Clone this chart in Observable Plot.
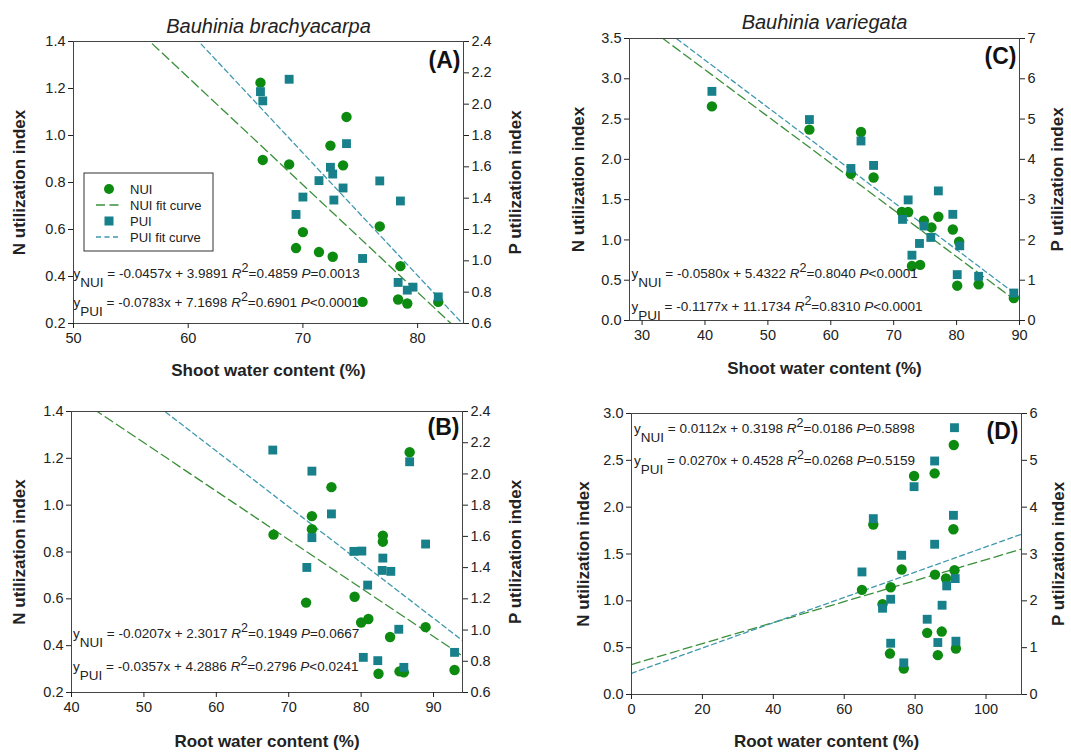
<!DOCTYPE html>
<html>
<head>
<meta charset="utf-8">
<script src="https://cdn.jsdelivr.net/npm/d3@7"></script>
<script src="https://cdn.jsdelivr.net/npm/@observablehq/plot@0.6"></script>
<style>
  body { margin: 0; background: #fff; }
  #fig { position: relative; width: 1071px; height: 753px; background: #fff; overflow: hidden; }
  #fig svg { position: absolute; }
</style>
</head>
<body>
<div id="fig"></div>
<script>
// ---------------- data ----------------
// Panel A: Bauhinia brachyacarpa, shoot water content
const A_nuiX = [66.3, 66.5, 68.8, 73.8, 72.4, 73.5, 70.0, 69.4, 71.4, 72.6, 76.7, 78.5, 75.2, 78.3, 79.1, 81.8];
const A_nuiY = [1.225, 0.896, 0.877, 1.079, 0.957, 0.873, 0.589, 0.521, 0.504, 0.484, 0.613, 0.444, 0.292, 0.302, 0.285, 0.292];
const A_puiX = [68.8, 66.3, 66.5, 73.8, 72.4, 72.6, 71.4, 73.5, 76.7, 70.0, 72.7, 78.5, 69.4, 75.2, 78.3, 79.1, 79.6, 81.8];
const A_puiY = [2.159, 2.08, 2.021, 1.748, 1.597, 1.554, 1.512, 1.465, 1.51, 1.407, 1.388, 1.382, 1.296, 1.015, 0.862, 0.813, 0.832, 0.77];
const A_slope = [-0.0457, -0.0783];
const A_intercept = [3.9891, 7.1698];
const A_r2 = [0.4859, 0.6901];
const A_p = ["=0.0013", "<0.0001"];

// Panel B: Bauhinia brachyacarpa, root water content
const B_nuiX = [86.7, 75.9, 73.2, 73.2, 67.9, 83.0, 83.0, 72.4, 79.1, 80.0, 81.0, 84.0, 88.9, 82.4, 85.3, 85.9, 92.9];
const B_nuiY = [1.226, 1.077, 0.953, 0.897, 0.874, 0.87, 0.844, 0.584, 0.609, 0.499, 0.514, 0.437, 0.479, 0.28, 0.29, 0.286, 0.296];
const B_puiX = [67.8, 73.2, 86.7, 75.9, 73.2, 88.9, 79.0, 80.1, 83.0, 72.5, 82.9, 84.1, 80.9, 85.2, 80.3, 82.3, 85.9, 92.9];
const B_puiY = [2.153, 2.018, 2.078, 1.744, 1.592, 1.551, 1.504, 1.506, 1.461, 1.401, 1.382, 1.376, 1.288, 1.005, 0.825, 0.804, 0.761, 0.857];
const B_slope = [-0.0207, -0.0357];
const B_intercept = [2.3017, 4.2886];
const B_r2 = [0.1949, 0.2796];
const B_p = ["=0.0667", "<0.0241"];

// Panel C: Bauhinia variegata, shoot water content
const C_nuiX = [41.1, 56.6, 64.8, 63.2, 66.8, 71.3, 72.3, 74.8, 76.0, 77.1, 79.4, 80.4, 72.9, 74.2, 80.1, 83.5, 89.1];
const C_nuiY = [2.657, 2.369, 2.34, 1.82, 1.775, 1.347, 1.347, 1.239, 1.155, 1.288, 1.13, 0.977, 0.677, 0.69, 0.432, 0.449, 0.278];
const C_puiX = [41.1, 56.6, 64.8, 63.2, 66.8, 72.3, 71.4, 77.1, 74.8, 75.9, 74.1, 72.9, 79.4, 80.5, 80.1, 83.5, 89.1];
const C_puiY = [5.688, 4.988, 4.456, 3.774, 3.849, 2.993, 2.51, 3.217, 2.344, 2.062, 1.912, 1.621, 2.635, 1.854, 1.139, 1.097, 0.682];
const C_slope = [-0.0580, -0.1177];
const C_intercept = [5.4322, 11.1734];
const C_r2 = [0.8040, 0.8310];
const C_p = ["<0.0001", "<0.0001"];

// Panel D: Bauhinia variegata, root water content
const D_nuiX = [90.9, 79.7, 85.5, 68.2, 90.8, 76.2, 91.1, 85.6, 88.7, 73.1, 65.0, 70.8, 83.4, 87.5, 72.9, 86.4, 91.5, 76.8];
const D_nuiY = [2.664, 2.333, 2.361, 1.814, 1.764, 1.334, 1.326, 1.28, 1.238, 1.145, 1.117, 0.964, 0.658, 0.672, 0.437, 0.42, 0.491, 0.277];
const D_puiX = [91.1, 85.5, 79.7, 68.2, 90.8, 85.5, 76.2, 65.0, 91.3, 88.9, 73.1, 87.6, 70.8, 83.4, 73.1, 86.4, 91.5, 76.8];
const D_puiY = [5.697, 4.986, 4.438, 3.755, 3.826, 3.208, 2.973, 2.617, 2.475, 2.319, 2.034, 1.906, 1.842, 1.607, 1.095, 1.11, 1.138, 0.676];
const D_slope = [0.0112, 0.0270];
const D_intercept = [0.3198, 0.4528];
const D_r2 = [0.0186, 0.0268];
const D_p = ["=0.5898", "=0.5159"];

// tick values
const xTicksA = [50, 60, 70, 80];
const xTicksB = [40, 50, 60, 70, 80, 90];
const xTicksC = [30, 40, 50, 60, 70, 80, 90];
const xTicksD = [0, 20, 40, 60, 80, 100];
const yTicksAB = [0.2, 0.4, 0.6, 0.8, 1.0, 1.2, 1.4];
const y2TicksAB = [0.6, 0.8, 1.0, 1.2, 1.4, 1.6, 1.8, 2.0, 2.2, 2.4];
const yTicksC = [0, 0.5, 1.0, 1.5, 2.0, 2.5, 3.0, 3.5];
const y2TicksC = [0, 1, 2, 3, 4, 5, 6, 7];
const yTicksD = [0, 0.5, 1.0, 1.5, 2.0, 2.5, 3.0];
const y2TicksD = [0, 1, 2, 3, 4, 5, 6];

const seriesNames = ["NUI", "PUI"];
const legendLabels = ["NUI", "NUI fit curve", "PUI", "PUI fit curve"];

// ---------------- styling ----------------
const FONT = "'Liberation Sans', Arial, Helvetica, sans-serif";
const GREEN = "#0d8a10";
const TEAL = "#17808b";
const GREEN_LINE = "#3a8f3a";
const TEAL_LINE = "#3f98ae";
const DASH_N = "9,4.5";
const DASH_P = "5,3.5";
const INK = "#222";

function equationMark(slopes, intercepts, r2s, ps, dx, dys) {
  return (index, scales, values, dim) => {
    const g = d3.create("svg:g")
      .attr("font-family", FONT).attr("font-size", 13.5).attr("fill", INK)
      .attr("text-anchor", "start")
      .style("white-space", "pre");
    seriesNames.forEach((name, i) => {
      const t = g.append("text")
        .attr("text-anchor", "start")
        .attr("x", dim.marginLeft + dx)
        .attr("y", dim.marginTop + dys[i]);
      t.append("tspan").text("y");
      t.append("tspan").attr("dy", 9).text(name);
      t.append("tspan").attr("dy", -9)
        .text(" = " + slopes[i].toFixed(4) + "x + " + intercepts[i].toFixed(4) + " ");
      t.append("tspan").attr("font-style", "italic").text("R");
      t.append("tspan").attr("dy", -6).attr("font-size", 12.5).text("2");
      t.append("tspan").attr("dy", 6).text("=" + r2s[i].toFixed(4) + " ");
      t.append("tspan").attr("font-style", "italic").text("P");
      t.append("tspan").text(ps[i]);
    });
    return g.node();
  };
}

function legendMark(bx, by) {
  return () => {
    const g = d3.create("svg:g").attr("font-family", FONT).attr("font-size", 13)
      .attr("fill", INK).attr("text-anchor", "start");
    g.append("rect").attr("x", bx).attr("y", by).attr("width", 129).attr("height", 78)
      .attr("fill", "#fff").attr("stroke", "#333").attr("stroke-width", 1);
    const rows = [by + 16, by + 32, by + 48, by + 64];
    g.append("circle").attr("cx", bx + 25).attr("cy", rows[0]).attr("r", 5).attr("fill", GREEN);
    g.append("line").attr("x1", bx + 12).attr("x2", bx + 37).attr("y1", rows[1]).attr("y2", rows[1])
      .attr("stroke", GREEN_LINE).attr("stroke-width", 1.3).attr("stroke-dasharray", DASH_N);
    g.append("rect").attr("x", bx + 20.5).attr("y", rows[2] - 4.5).attr("width", 9).attr("height", 9).attr("fill", TEAL);
    g.append("line").attr("x1", bx + 12).attr("x2", bx + 37).attr("y1", rows[3]).attr("y2", rows[3])
      .attr("stroke", TEAL_LINE).attr("stroke-width", 1.3).attr("stroke-dasharray", DASH_P);
    legendLabels.forEach((lab, i) => {
      g.append("text").attr("text-anchor", "start").attr("x", bx + 46).attr("y", rows[i]).attr("dy", "0.35em").text(lab);
    });
    return g.node();
  };
}

function panel(p) {
  const [y0, y1] = p.yDomain, [r0, r1] = p.y2Domain;
  const toL = v => y0 + (v - r0) * (y1 - y0) / (r1 - r0);
  const fromL = v => r0 + (v - y0) * (r1 - r0) / (y1 - y0);
  const nui = p.nuiX.map((x, i) => ({x, y: p.nuiY[i]}));
  const pui = p.puiX.map((x, i) => ({x, y: toL(p.puiY[i])}));
  const [xa, xb] = p.xDomain;
  const fitN = [xa, xb].map(x => ({x, y: p.slope[0] * x + p.intercept[0]}));
  const fitP = [xa, xb].map(x => ({x, y: toL(p.slope[1] * x + p.intercept[1])}));
  const svg = Plot.plot({
    width: p.w, height: p.h,
    marginLeft: p.ml, marginRight: p.mr, marginTop: p.mt, marginBottom: p.mb,
    style: {fontFamily: FONT, fontSize: "14.5px", color: INK, background: "transparent", overflow: "visible"},
    x: {domain: p.xDomain, axis: null},
    y: {domain: p.yDomain, axis: null},
    marks: [
      Plot.line(fitN, {x: "x", y: "y", stroke: GREEN_LINE, strokeWidth: 1.3, strokeDasharray: DASH_N, clip: true}),
      Plot.line(fitP, {x: "x", y: "y", stroke: TEAL_LINE, strokeWidth: 1.3, strokeDasharray: DASH_P, clip: true}),
      Plot.dot(nui, {x: "x", y: "y", r: 5.2, fill: GREEN, symbol: "circle"}),
      Plot.dot(pui, {x: "x", y: "y", r: 5, fill: TEAL, symbol: "square"}),
      Plot.frame({stroke: "#444", strokeWidth: 1}),
      Plot.axisX({ticks: p.xTicks, tickSize: 5, tickPadding: 4, label: null, tickFormat: d3.format("d")}),
      Plot.axisY({anchor: "left", ticks: p.yTicks, tickSize: 5, tickPadding: 3, label: null, tickFormat: d3.format(".1f")}),
      Plot.axisY({anchor: "right", ticks: p.y2Ticks.map(toL), tickSize: 5, tickPadding: 3, label: null,
                  tickFormat: v => p.y2Fmt(fromL(v))}),
      Plot.text([p.xTitle], {text: d => d, frameAnchor: "bottom", dy: p.xTitleDy, lineAnchor: "middle", textAnchor: "middle", fontWeight: "bold", fontSize: 17, fill: INK}),
      Plot.text([p.yTitle], {text: d => d, frameAnchor: "left", dx: p.yTitleDx, rotate: -90, lineAnchor: "middle", textAnchor: "middle", fontWeight: "bold", fontSize: 17, fill: INK}),
      Plot.text([p.y2Title], {text: d => d, frameAnchor: "right", dx: p.y2TitleDx, rotate: -90, lineAnchor: "middle", textAnchor: "middle", fontWeight: "bold", fontSize: 17, fill: INK}),
      p.title ? Plot.text([p.title], {text: d => d, frameAnchor: "top", dy: p.titleDy, lineAnchor: "middle", textAnchor: "middle", fontStyle: "italic", fontSize: 20, fill: INK}) : null,
      Plot.text([p.tag], {text: d => d, frameAnchor: "top-right", dx: -3, dy: p.tagDy, textAnchor: "end", lineAnchor: "top", fontWeight: "bold", fontSize: 23, fill: "#111"}),
      equationMark(p.slope, p.intercept, p.r2, p.p, p.eqDx, p.eqDys),
      p.legend ? legendMark(p.legend[0], p.legend[1]) : null
    ]
  });
  svg.style.left = p.left + "px";
  svg.style.top = p.top + "px";
  document.getElementById("fig").appendChild(svg);
}

const fmt1 = d3.format(".1f");
const fmtInt = v => d3.format("d")(Math.round(v));

panel({
  left: 0, top: 0, w: 535, h: 376, ml: 73, mr: 72, mt: 41, mb: 53,
  xDomain: [50, 84], yDomain: [0.2, 1.4], y2Domain: [0.6, 2.4],
  xTicks: xTicksA, yTicks: yTicksAB, y2Ticks: y2TicksAB, y2Fmt: fmt1,
  nuiX: A_nuiX, nuiY: A_nuiY, puiX: A_puiX, puiY: A_puiY,
  slope: A_slope, intercept: A_intercept, r2: A_r2, p: A_p,
  xTitle: "Shoot water content (%)", yTitle: "N utilization index", y2Title: "P utilization index",
  xTitleDy: 47, yTitleDx: -54, y2TitleDx: 52,
  title: "Bauhinia brachyacarpa", titleDy: -15, tag: "(A)", tagDy: 10,
  eqDx: 0.5, eqDys: [237, 266], legend: [84, 173]
});

panel({
  left: 536, top: 0, w: 535, h: 376, ml: 93, mr: 52, mt: 38, mb: 56,
  xDomain: [28, 90], yDomain: [0, 3.5], y2Domain: [0, 7],
  xTicks: xTicksC, yTicks: yTicksC, y2Ticks: y2TicksC, y2Fmt: fmtInt,
  nuiX: C_nuiX, nuiY: C_nuiY, puiX: C_puiX, puiY: C_puiY,
  slope: C_slope, intercept: C_intercept, r2: C_r2, p: C_p,
  xTitle: "Shoot water content (%)", yTitle: "N utilization index", y2Title: "P utilization index",
  xTitleDy: 48, yTitleDx: -51, y2TitleDx: 38,
  title: "Bauhinia variegata", titleDy: -16, tag: "(C)", tagDy: 9,
  eqDx: 2.5, eqDys: [240, 272.5]
});

panel({
  left: 0, top: 376, w: 535, h: 377, ml: 71, mr: 73, mt: 35, mb: 61,
  xDomain: [40, 94], yDomain: [0.2, 1.4], y2Domain: [0.6, 2.4],
  xTicks: xTicksB, yTicks: yTicksAB, y2Ticks: y2TicksAB, y2Fmt: fmt1,
  nuiX: B_nuiX, nuiY: B_nuiY, puiX: B_puiX, puiY: B_puiY,
  slope: B_slope, intercept: B_intercept, r2: B_r2, p: B_p,
  xTitle: "Root water content (%)", yTitle: "N utilization index", y2Title: "P utilization index",
  xTitleDy: 49, yTitleDx: -52, y2TitleDx: 53,
  tag: "(B)", tagDy: 7,
  eqDx: 2, eqDys: [227, 260]
});

panel({
  left: 536, top: 376, w: 535, h: 377, ml: 95, mr: 50, mt: 37, mb: 59,
  xDomain: [0, 110], yDomain: [0, 3], y2Domain: [0, 6],
  xTicks: xTicksD, yTicks: yTicksD, y2Ticks: y2TicksD, y2Fmt: fmtInt,
  nuiX: D_nuiX, nuiY: D_nuiY, puiX: D_puiX, puiY: D_puiY,
  slope: D_slope, intercept: D_intercept, r2: D_r2, p: D_p,
  xTitle: "Root water content (%)", yTitle: "N utilization index", y2Title: "P utilization index",
  xTitleDy: 47, yTitleDx: -48, y2TitleDx: 37,
  tag: "(D)", tagDy: 9,
  eqDx: 3, eqDys: [19.5, 52]
});
</script>
</body>
</html>
